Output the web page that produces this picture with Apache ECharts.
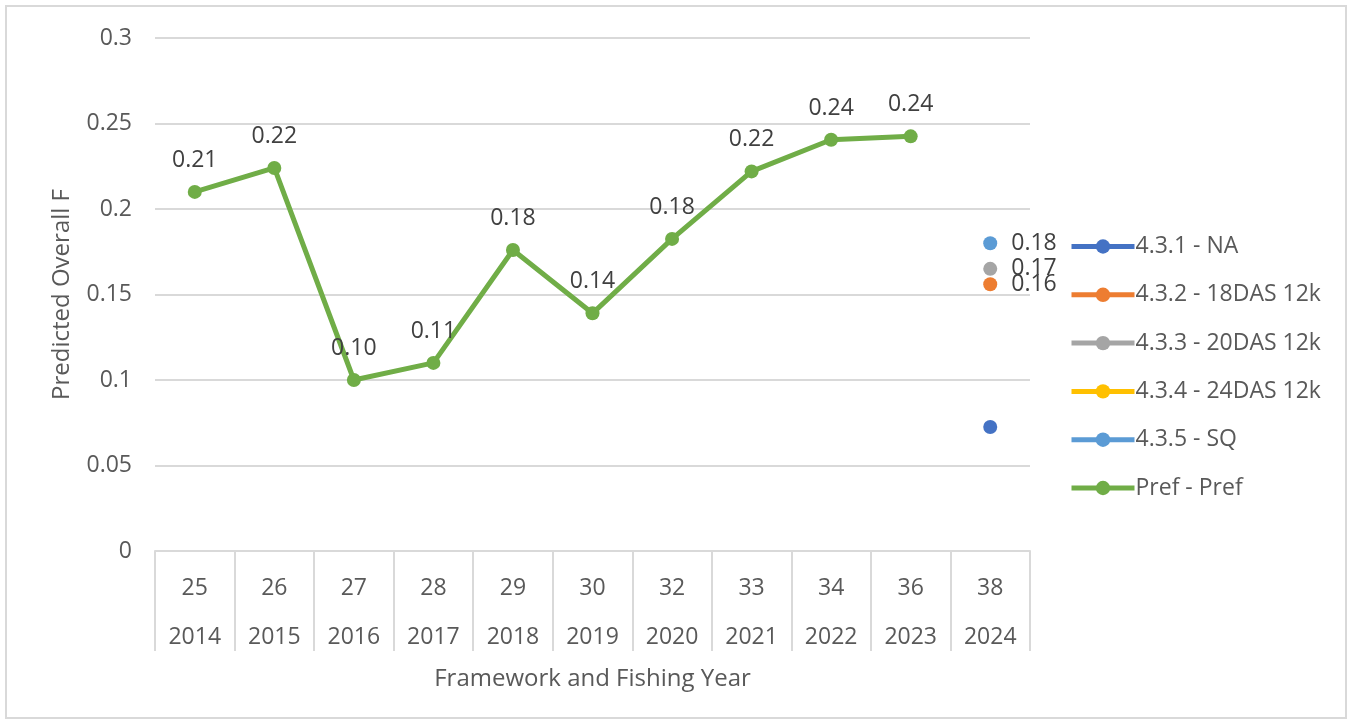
<!DOCTYPE html>
<html>
<head>
<meta charset="utf-8">
<script src="https://cdn.jsdelivr.net/npm/echarts@6/dist/echarts.min.js"></script>
<style>
  html, body { margin: 0; padding: 0; background: #fff; }
  #chart { width: 1353px; height: 725px; }
</style>
</head>
<body>
<div id="chart"></div>
<script>
// Framework number and fishing year for each category
const frameworks = ['25', '26', '27', '28', '29', '30', '32', '33', '34', '36', '38'];
const years = ['2014', '2015', '2016', '2017', '2018', '2019', '2020', '2021', '2022', '2023', '2024'];

// Predicted overall F by alternative (only 2024 for the alternatives)
const prefValues = [0.21, 0.224, 0.100, 0.110, 0.176, 0.139, 0.1825, 0.222, 0.2405, 0.2425, null];
const naValues = [null, null, null, null, null, null, null, null, null, null, 0.0725];
const das18Values = [null, null, null, null, null, null, null, null, null, null, 0.156];
const das20Values = [null, null, null, null, null, null, null, null, null, null, 0.165];
const das24Values = [null, null, null, null, null, null, null, null, null, null, null];
const sqValues = [null, null, null, null, null, null, null, null, null, null, 0.180];

const yTicks = { min: 0, max: 0.3, interval: 0.05 };

const FONT = '"Open Sans", sans-serif';
const AXIS_TEXT = '#595959';
const LABEL_TEXT = '#404040';
const GRID_LINE = '#d9d9d9';

const categories = frameworks.map((f, i) => f + '|' + years[i]);

function altSeries(name, color, data, showLabel, z) {
  return {
    name: name,
    type: 'line',
    data: data,
    z: z,
    symbol: 'circle',
    symbolSize: 14,
    itemStyle: { color: color },
    lineStyle: { color: color, width: 5 },
    label: {
      show: showLabel,
      position: 'right',
      distance: 14,
      color: LABEL_TEXT,
      fontFamily: FONT,
      fontSize: 23,
      formatter: p => p.value == null ? '' : p.value.toFixed(2)
    }
  };
}

const chart = echarts.init(document.getElementById('chart'));
chart.setOption({
  animation: false,
  backgroundColor: '#fff',
  graphic: [{
    type: 'rect',
    shape: { x: 6, y: 6, width: 1340, height: 712 },
    style: { fill: 'none', stroke: '#d9d9d9', lineWidth: 2 },
    silent: true
  }],
  grid: { left: 155, right: 323, top: 38, bottom: 174 },
  legend: {
    orient: 'vertical',
    left: 1069,
    top: 235,
    padding: 0,
    itemWidth: 63,
    itemHeight: 18,
    itemGap: 25.3,
    lineStyle: { width: 5 },
    textStyle: { color: AXIS_TEXT, fontFamily: FONT, fontSize: 23, padding: [0, 0, 0, -4] },
    data: ['4.3.1 - NA', '4.3.2 - 18DAS 12k', '4.3.3 - 20DAS 12k', '4.3.4 - 24DAS 12k', '4.3.5 - SQ', 'Pref - Pref']
  },
  xAxis: {
    type: 'category',
    data: categories,
    boundaryGap: true,
    name: 'Framework and Fishing Year',
    nameLocation: 'middle',
    nameGap: 109,
    nameTextStyle: { color: AXIS_TEXT, fontFamily: FONT, fontSize: 24 },
    axisLine: { lineStyle: { color: GRID_LINE, width: 2 } },
    axisTick: { show: true, length: 100, interval: 0, lineStyle: { color: GRID_LINE, width: 2 } },
    axisLabel: {
      interval: 0,
      margin: 13,
      color: AXIS_TEXT,
      fontFamily: FONT,
      fontSize: 23,
      lineHeight: 49,
      formatter: v => v.split('|').join('\n')
    }
  },
  yAxis: {
    type: 'value',
    min: yTicks.min,
    max: yTicks.max,
    interval: yTicks.interval,
    name: 'Predicted Overall F',
    nameLocation: 'middle',
    nameGap: 81,
    nameTextStyle: { color: AXIS_TEXT, fontFamily: FONT, fontSize: 24 },
    axisLine: { show: false },
    axisTick: { show: false },
    splitLine: { lineStyle: { color: GRID_LINE, width: 2 } },
    axisLabel: { margin: 23, color: AXIS_TEXT, fontFamily: FONT, fontSize: 23 }
  },
  series: [
    altSeries('4.3.1 - NA', '#4472c4', naValues, false, 3),
    altSeries('4.3.2 - 18DAS 12k', '#ed7d31', das18Values, true, 4),
    altSeries('4.3.3 - 20DAS 12k', '#a5a5a5', das20Values, true, 3),
    altSeries('4.3.4 - 24DAS 12k', '#ffc000', das24Values, true, 3),
    altSeries('4.3.5 - SQ', '#5b9bd5', sqValues, true, 5),
    {
      name: 'Pref - Pref',
      type: 'line',
      data: prefValues,
      z: 2,
      symbol: 'circle',
      symbolSize: 14,
      itemStyle: { color: '#70ad47' },
      lineStyle: { color: '#70ad47', width: 5 },
      label: {
        show: true,
        position: 'top',
        distance: 13,
        color: LABEL_TEXT,
        fontFamily: FONT,
        fontSize: 23,
        formatter: p => p.value == null ? '' : p.value.toFixed(2)
      }
    }
  ]
});
</script>
</body>
</html>
